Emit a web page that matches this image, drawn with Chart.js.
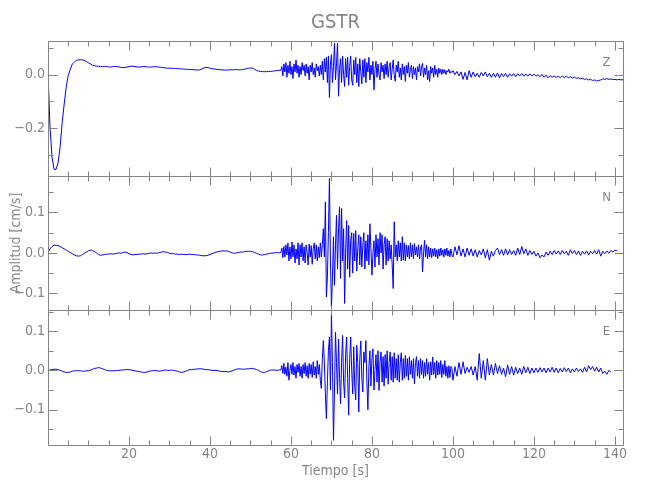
<!DOCTYPE html>
<html>
<head>
<meta charset="utf-8">
<title>GSTR</title>
<script src="https://cdn.jsdelivr.net/npm/chart.js@4.4.1/dist/chart.umd.min.js"></script>
<style>
  body { margin: 0; background: #fff; }
  canvas { display: block; }
</style>
</head>
<body>
<canvas id="sismo" width="650" height="500"></canvas>
<script>
const dtLento = 0.5;
const dtFuerte = 0.25;
const tFuerte = 57.5;
const tCoda = 100;

// componente vertical (cm/s)
const preZ = [
  0.010, -0.200, -0.310, -0.355, -0.355, -0.330, -0.270, -0.180, -0.110, -0.046, -0.003, 0.020, 0.040, 0.047, 0.053, 0.055, 0.056, 0.055, 0.053, 0.049,
  0.044, 0.040, 0.035, 0.033, 0.032, 0.031, 0.030, 0.030, 0.031, 0.030, 0.029, 0.028, 0.030, 0.031, 0.030, 0.029, 0.027, 0.026, 0.027, 0.028,
  0.030, 0.032, 0.031, 0.030, 0.029, 0.028, 0.029, 0.030, 0.030, 0.029, 0.028, 0.028, 0.029, 0.030, 0.029, 0.028, 0.027, 0.026, 0.025, 0.024,
  0.024, 0.024, 0.023, 0.023, 0.022, 0.022, 0.021, 0.021, 0.020, 0.020, 0.019, 0.019, 0.018, 0.018, 0.017, 0.018, 0.021, 0.025, 0.027, 0.026,
  0.024, 0.022, 0.021, 0.020, 0.019, 0.018, 0.018, 0.017, 0.017, 0.017, 0.018, 0.018, 0.018, 0.019, 0.018, 0.018, 0.019, 0.020, 0.022, 0.024,
  0.025, 0.024, 0.020, 0.016, 0.013, 0.012, 0.011, 0.011, 0.011, 0.012, 0.012, 0.013, 0.014, 0.015, 0.016
];
const fuerteZ = [
  0.016, 0.030, -0.005, 0.040, 0.010, 0.045, -0.010, 0.035, 0.005, 0.050, 0.000, 0.030, -0.015, 0.040, 0.010, 0.055, 0.005, 0.035, -0.010, 0.030,
  0.000, 0.045, 0.015, 0.035, -0.005, 0.040, 0.005, 0.030, -0.020, 0.035, 0.010, 0.045, 0.000, 0.025, -0.010, 0.040, 0.015, 0.030, -0.005, 0.035,
  0.000, 0.050, -0.020, 0.060, 0.010, 0.065, -0.030, 0.070, -0.086, 0.040, 0.075, -0.030, 0.030, 0.118, -0.020, 0.040, 0.118, -0.081, 0.020, 0.060,
  -0.030, 0.070, 0.000, -0.045, 0.060, -0.010, 0.065, -0.040, 0.030, 0.070, -0.020, -0.040, 0.055, 0.000, 0.065, -0.030, 0.040, -0.045, 0.060, 0.010,
  -0.035, 0.055, -0.010, 0.060, -0.030, 0.045, 0.010, 0.065, -0.020, 0.035, 0.000, 0.050, -0.057, 0.020, 0.050, -0.010, 0.040, 0.000, -0.020, 0.045,
  0.010, 0.035, -0.015, 0.040, 0.000, 0.050, -0.010, 0.030, 0.045, -0.020, 0.020, 0.055, 0.000, -0.025, 0.035, 0.010, 0.050, -0.010, 0.025, -0.020,
  0.040, 0.000, 0.030, -0.025, 0.035, 0.005, 0.045, -0.010, 0.020, 0.035, -0.015, 0.030, 0.000, 0.025, -0.020, 0.030, 0.010, 0.040, -0.005, 0.030,
  0.042, -0.010, 0.025, 0.000, 0.035, -0.020, 0.015, -0.026, 0.030, 0.005, 0.025, -0.010, 0.035, 0.000, 0.020, -0.010, 0.025, 0.005, 0.020, 0.000,
  0.020, 0.005, 0.018, 0.000, 0.015, 0.010, 0.020, 0.005, 0.012, 0.008
];
const codaZ = [
  0.015, 0.000, 0.012, -0.005, 0.010, -0.018, 0.008, -0.020, 0.015, -0.010, 0.010, -0.008, 0.005, -0.010, 0.008, -0.005, 0.010, -0.008, 0.005, -0.010,
  0.005, -0.010, 0.006, -0.012, 0.004, -0.008, 0.005, -0.010, 0.003, -0.006, 0.004, -0.008, 0.003, -0.005, 0.004, -0.006, 0.002, -0.006, 0.003, -0.005,
  0.002, -0.006, 0.000, -0.008, 0.001, -0.010, -0.002, -0.012, -0.004, -0.010, -0.005, -0.011, -0.006, -0.012, -0.005, -0.011, -0.006, -0.012, -0.008, -0.013,
  -0.010, -0.014, -0.012, -0.016, -0.014, -0.018, -0.016, -0.020, -0.018, -0.022, -0.020, -0.024, -0.022, -0.020, -0.016, -0.018, -0.015, -0.018, -0.016, -0.019,
  -0.018, -0.020, -0.018, -0.020, -0.019
];

// componente norte-sur
const preN = [
  0.000, 0.010, 0.016, 0.019, 0.019, 0.018, 0.016, 0.013, 0.010, 0.007, 0.004, 0.001, -0.002, -0.005, -0.007, -0.008, -0.007, -0.004, -0.001, 0.002,
  0.005, 0.007, 0.006, 0.003, 0.000, -0.004, -0.006, -0.005, -0.004, -0.003, -0.003, -0.002, -0.003, -0.002, -0.001, 0.000, -0.001, 0.001, 0.002, 0.001,
  -0.002, -0.004, -0.005, -0.004, -0.004, -0.003, -0.003, -0.002, -0.003, -0.002, -0.001, 0.000, -0.001, 0.000, -0.001, 0.001, 0.002, 0.003, 0.002, 0.001,
  -0.001, -0.002, -0.002, -0.003, -0.003, -0.004, -0.003, -0.004, -0.004, -0.004, -0.003, -0.004, -0.004, -0.005, -0.005, -0.006, -0.007, -0.007, -0.007, -0.006,
  -0.004, -0.002, 0.000, 0.002, 0.003, 0.004, 0.005, 0.005, 0.005, 0.004, 0.002, 0.000, -0.001, 0.000, 0.001, 0.002, 0.002, 0.003, 0.004, 0.004,
  0.004, 0.003, 0.001, -0.001, -0.003, -0.005, -0.005, -0.004, -0.003, -0.002, -0.001, 0.000, 0.000, 0.001, 0.000
];
const fuerteN = [
  0.001, 0.012, -0.012, 0.016, -0.010, 0.020, -0.005, 0.025, -0.020, 0.015, -0.015, 0.027, -0.010, 0.020, -0.025, 0.010, -0.015, 0.025, -0.030, 0.020,
  -0.010, 0.025, -0.020, 0.015, -0.025, 0.020, 0.000, -0.030, 0.022, -0.010, 0.018, -0.028, 0.010, 0.025, -0.015, 0.020, -0.020, 0.015, -0.012, 0.025,
  -0.010, 0.020, 0.060, -0.010, 0.126, -0.109, -0.060, 0.050, 0.184, -0.020, -0.133, -0.060, 0.040, -0.080, 0.020, 0.093, -0.040, 0.060, 0.114, -0.063,
  0.110, -0.020, 0.060, -0.125, 0.000, 0.080, -0.040, 0.068, -0.060, 0.030, 0.050, -0.050, 0.048, -0.020, 0.055, -0.045, 0.010, 0.045, -0.030, 0.040,
  -0.035, 0.020, 0.050, -0.040, 0.030, -0.020, 0.045, -0.030, 0.072, 0.010, -0.055, 0.000, 0.030, -0.035, 0.045, -0.010, 0.035, -0.030, 0.050, 0.000,
  0.045, -0.040, 0.020, 0.040, -0.030, 0.035, -0.020, 0.030, -0.015, 0.020, -0.030, -0.088, 0.077, -0.010, 0.020, -0.020, 0.030, -0.010, 0.025, -0.020,
  0.040, -0.018, 0.025, -0.020, 0.020, -0.010, 0.018, -0.015, 0.025, -0.010, 0.020, -0.015, 0.023, -0.005, 0.015, -0.010, 0.020, -0.015, 0.012, 0.020,
  -0.047, 0.000, 0.031, -0.010, 0.020, -0.015, 0.015, -0.010, 0.012, -0.012, 0.010, -0.008, 0.012, -0.010, 0.008, -0.014, 0.010, -0.008, 0.012, -0.006,
  0.008, -0.010, 0.010, -0.006, 0.012, -0.008, 0.006, -0.010, 0.010, -0.005
];
const codaN = [
  -0.010, 0.015, -0.005, 0.018, -0.008, 0.010, -0.010, 0.012, -0.006, 0.010, -0.008, 0.008, -0.010, 0.006, -0.005, 0.010, -0.012, 0.008, -0.018, 0.004,
  -0.008, 0.006, 0.012, -0.004, 0.008, -0.006, 0.010, -0.005, 0.008, -0.004, 0.006, -0.006, 0.012, -0.004, 0.016, -0.002, 0.010, -0.006, 0.006, -0.004,
  0.004, -0.008, 0.000, -0.012, -0.005, -0.010, 0.002, -0.006, 0.004, -0.004, 0.006, -0.003, 0.005, -0.004, 0.006, -0.002, 0.004, -0.006, 0.008, -0.002,
  0.006, -0.004, 0.005, -0.006, 0.004, -0.003, 0.005, -0.005, 0.004, -0.002, 0.006, -0.003, 0.008, -0.008, 0.004, -0.002, 0.005, -0.001, 0.006, 0.002,
  0.007, 0.005
];

// componente este-oeste
const preE = [
  0.000, 0.001, 0.002, 0.003, 0.003, 0.002, 0.000, -0.002, -0.004, -0.005, -0.005, -0.004, -0.002, -0.001, -0.001, -0.001, -0.001, -0.002, -0.002, -0.001,
  -0.001, 0.001, 0.003, 0.005, 0.006, 0.007, 0.006, 0.004, 0.002, 0.000, -0.001, -0.001, -0.001, -0.001, 0.000, 0.000, 0.001, 0.001, 0.002, 0.002,
  0.002, 0.001, 0.000, -0.001, -0.002, -0.003, -0.004, -0.005, -0.005, -0.004, -0.002, -0.001, -0.001, 0.000, -0.001, -0.002, -0.001, 0.000, 0.001, 0.000,
  0.000, 0.001, 0.000, -0.001, -0.002, -0.004, -0.005, -0.004, -0.002, 0.000, 0.002, 0.002, 0.003, 0.003, 0.004, 0.004, 0.004, 0.003, 0.002, 0.002,
  0.001, 0.000, 0.000, 0.000, -0.001, -0.002, -0.003, -0.003, -0.003, -0.004, -0.003, -0.001, 0.001, 0.003, 0.004, 0.004, 0.003, 0.003, 0.004, 0.004,
  0.005, 0.005, 0.004, 0.002, 0.000, -0.003, -0.005, -0.005, -0.003, -0.001, 0.001, 0.001, 0.001, 0.000, 0.001
];
const fuerteE = [
  0.001, 0.012, -0.008, 0.018, -0.010, 0.008, -0.015, 0.020, -0.025, 0.000, 0.015, -0.010, 0.020, -0.012, 0.010, -0.020, 0.015, -0.005, 0.018, -0.015,
  0.010, -0.020, 0.015, -0.008, 0.020, -0.015, 0.012, -0.020, 0.018, -0.010, 0.015, -0.018, 0.022, -0.012, 0.010, -0.020, 0.025, -0.010, 0.015, -0.025,
  -0.046, 0.030, 0.076, 0.020, -0.060, -0.123, -0.030, 0.050, 0.085, -0.050, 0.144, 0.020, -0.178, -0.050, 0.097, 0.020, -0.060, 0.080, -0.020, -0.085,
  0.020, 0.089, -0.030, -0.070, 0.040, 0.085, -0.020, -0.114, 0.030, 0.085, 0.000, -0.060, 0.060, -0.040, -0.075, 0.064, 0.020, -0.106, 0.030, 0.075,
  -0.020, -0.055, 0.047, 0.020, 0.076, -0.030, -0.100, 0.010, 0.050, -0.040, 0.030, 0.055, -0.050, 0.000, 0.040, -0.030, 0.050, -0.051, 0.020, 0.047,
  -0.030, 0.035, -0.040, 0.040, -0.020, 0.050, -0.035, 0.020, 0.047, -0.025, 0.035, -0.030, 0.045, -0.020, 0.030, -0.025, 0.040, -0.030, 0.020, 0.045,
  -0.025, 0.030, -0.020, 0.038, -0.015, 0.030, -0.025, 0.035, -0.010, 0.025, -0.020, 0.030, -0.034, 0.020, 0.035, -0.015, 0.025, -0.020, 0.030, -0.010,
  0.025, -0.020, 0.020, -0.015, 0.030, -0.010, 0.020, -0.025, 0.022, -0.012, 0.034, -0.010, 0.020, -0.020, 0.025, -0.012, 0.020, -0.010, 0.025, -0.018,
  0.015, -0.010, 0.025, -0.015, 0.010, -0.020, 0.012, -0.018, 0.010, 0.005
];
const codaE = [
  -0.025, 0.010, -0.015, 0.020, -0.010, 0.022, -0.008, 0.008, -0.005, 0.010, -0.012, 0.010, -0.025, 0.043, -0.020, 0.025, -0.025, 0.030, -0.012, 0.015,
  -0.012, 0.018, -0.008, 0.012, -0.010, 0.006, -0.016, 0.014, -0.010, 0.010, -0.012, 0.008, -0.008, 0.006, -0.010, 0.010, -0.006, 0.008, -0.008, 0.006,
  -0.006, 0.006, -0.005, 0.007, -0.004, 0.006, -0.006, 0.006, -0.004, 0.008, -0.005, 0.006, -0.006, 0.005, -0.004, 0.007, -0.003, 0.006, -0.006, 0.004,
  -0.004, 0.006, -0.003, 0.004, -0.005, 0.008, -0.004, 0.012, 0.002, 0.010, -0.002, 0.008, -0.004, 0.006, -0.008, -0.002, -0.010, 0.000, -0.004
];

// marcas de los ejes
const xLabels = [20, 40, 60, 80, 100, 120, 140];
const zLabels = [0.0, -0.2];
const nLabels = [0.1, 0.0, -0.1];
const eLabels = [0.1, 0.0, -0.1];
const zTicks = [0.1, 0.0, -0.1, -0.2, -0.3];
const nTicks = [0.15, 0.1, 0.05, 0.0, -0.05, -0.1];
const eTicks = [0.15, 0.1, 0.05, 0.0, -0.05, -0.1, -0.15];

const gris = '#858585';
const fuente = '"Liberation Sans Narrow", "DejaVu Sans Condensed", sans-serif';

function serie(pre, fuerte, coda) {
  return [
    ...pre.map((v, i) => ({x: i * dtLento, y: v})),
    ...fuerte.map((v, i) => ({x: tFuerte + i * dtFuerte, y: v})),
    ...coda.map((v, i) => ({x: tCoda + i * dtLento, y: v}))
  ];
}

const paneles = [
  {id: 'yZ', name: 'Z', data: serie(preZ, fuerteZ, codaZ), min: -0.379, max: 0.126, labels: zLabels, ticks: zTicks},
  {id: 'yN', name: 'N', data: serie(preN, fuerteN, codaN), min: -0.142, max: 0.191, labels: nLabels, ticks: nTicks},
  {id: 'yE', name: 'E', data: serie(preE, fuerteE, codaE), min: -0.190, max: 0.153, labels: eLabels, ticks: eTicks}
];

// recuadro de cada panel con marcas hacia dentro, estilo IDL
const marco = {
  id: 'marco',
  afterDraw(chart) {
    const ctx = chart.ctx;
    const area = chart.chartArea;
    const x = chart.scales.x;
    ctx.save();
    ctx.strokeStyle = gris;
    ctx.fillStyle = gris;
    ctx.lineWidth = 1;
    ctx.font = '13px ' + fuente;
    ctx.textAlign = 'center';
    ctx.textBaseline = 'middle';
    paneles.forEach(p => {
      const s = chart.scales[p.id];
      const top = Math.round(s.top) + 0.5, bottom = Math.round(s.bottom) + 0.5;
      const left = Math.round(area.left) + 0.5, right = Math.round(area.right) + 0.5;
      ctx.strokeRect(left, top, right - left, bottom - top);
      ctx.beginPath();
      for (let t = 0; t <= 140; t += 5) {
        const px = Math.round(x.getPixelForValue(t)) + 0.5;
        const len = t % 20 === 0 ? 9 : 5;
        ctx.moveTo(px, top); ctx.lineTo(px, top + len);
        ctx.moveTo(px, bottom); ctx.lineTo(px, bottom - len);
      }
      p.ticks.forEach(v => {
        const py = Math.round(s.getPixelForValue(v)) + 0.5;
        const len = p.labels.includes(v) ? 9 : 5;
        ctx.moveTo(left, py); ctx.lineTo(left + len, py);
        ctx.moveTo(right, py); ctx.lineTo(right - len, py);
      });
      ctx.stroke();
      ctx.fillText(p.name, right - 17, top + 21);
    });
    ctx.restore();
  }
};

const scales = {
  x: {
    type: 'linear', min: 0, max: 142,
    grid: {display: false, drawTicks: false},
    border: {display: false},
    afterBuildTicks: s => { s.ticks = xLabels.map(v => ({value: v})); },
    afterFit: s => { s.height = 55; },
    ticks: {color: gris, font: {family: fuente, size: 14}, padding: 1, maxRotation: 0, autoSkip: false},
    title: {display: true, text: 'Tiempo [s]', color: gris, font: {family: fuente, size: 14}, padding: {top: 0, bottom: 20}}
  }
};

// los ejes apilados se colocan de abajo hacia arriba
paneles.slice().reverse().forEach(p => {
  scales[p.id] = {
    type: 'linear', position: 'left', stack: 'paneles', stackWeight: 1,
    min: p.min, max: p.max,
    grid: {display: false, drawTicks: false},
    border: {display: false},
    afterBuildTicks: s => { s.ticks = p.labels.map(v => ({value: v})); },
    afterFit: s => { s.width = 48; },
    ticks: {
      color: gris, font: {family: fuente, size: 14}, padding: 3,
      callback: v => v.toFixed(1).replace('-', '\u2212')
    },
    title: {
      display: p.id === 'yN', text: 'Amplitud [cm/s]', color: gris,
      font: {family: fuente, size: 14}, padding: {top: 7.6, bottom: 0}
    }
  };
});

new Chart(document.getElementById('sismo'), {
  type: 'line',
  data: {
    datasets: paneles.map(p => ({
      data: p.data,
      xAxisID: 'x',
      yAxisID: p.id,
      borderColor: '#0000ff',
      borderWidth: 1,
      pointRadius: 0,
      tension: 0,
      fill: false
    }))
  },
  options: {
    responsive: false,
    animation: false,
    devicePixelRatio: 1,
    layout: {padding: {left: 0, right: 27, top: 0, bottom: 0}},
    scales: scales,
    plugins: {
      legend: {display: false},
      tooltip: {enabled: false},
      title: {
        display: true, text: 'GSTR', color: gris, fullSize: false,
        font: {family: fuente, size: 20, weight: 'normal'},
        padding: {top: 11, bottom: 6}
      }
    }
  },
  plugins: [marco]
});
</script>
</body>
</html>
